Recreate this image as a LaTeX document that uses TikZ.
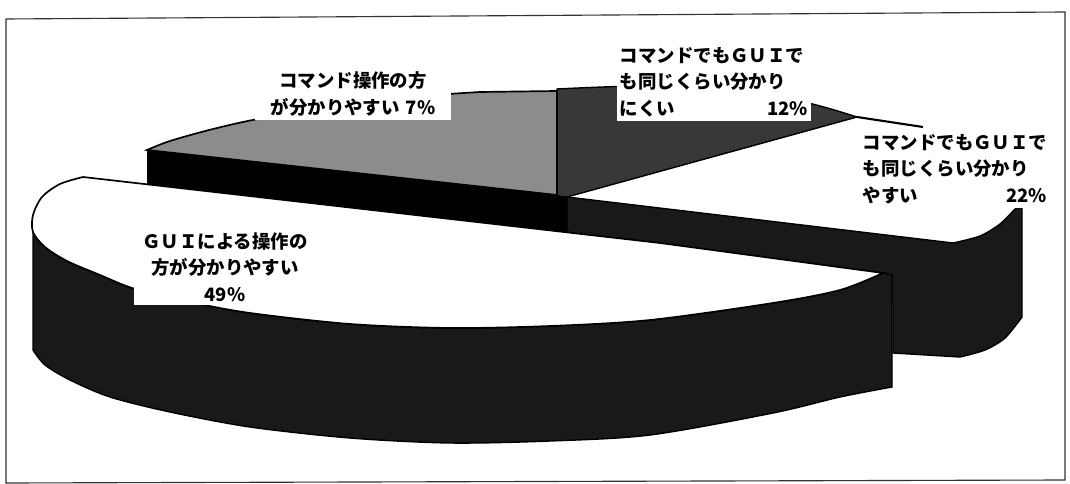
\documentclass[tikz,border=0pt]{standalone}
\usepackage{fontspec}
\newfontfamily\jpfont{Noto Sans CJK JP}
\usepackage{tikz}

\begin{document}
\begin{tikzpicture}[x=0.025cm, y=-0.025cm,
    side/.style={fill=black!90, draw=black, line width=1pt},
    topface/.style={fill=white, draw=black, line width=1.2pt},
    lbl/.style={fill=white, inner xsep=0.08cm, inner ysep=0.1cm,
      font=\jpfont\bfseries\fontsize{13.1pt}{18.8pt}\selectfont}]

    \useasboundingbox (0,0) rectangle (1070,484);
    \draw[line width=0.8pt, black!80] (6,19) -- (1065,12) -- (1065,480) -- (6,483) -- cycle;

    \filldraw[fill=black!78, draw=black, line width=1pt] (557,89)
      -- plot[smooth] coordinates {(557,89) (650,86) (740,92) (808,103) (857,117)}
      -- (567,197) -- (557,197) -- cycle;
    \draw[line width=1.5pt] (857,117) -- (923,127);

    \fill[black] (147,150) -- (557,195) -- (567,197) -- (640,245) -- (147,192) -- cycle;
    \filldraw[fill=black!45, draw=black, line width=1.2pt] (147,150)
      -- plot[smooth] coordinates {(147,150) (170,141) (213,129) (263,118) (350,104) (448,94)}
      -- (480,92) -- (557,91) -- (557,195) -- cycle;

    \filldraw[side] (567,197) -- (953,243)
      -- plot[smooth] coordinates {(953,243) (980,236) (1000,224) (1015,209)}
      -- (1022,207) -- (1022,317)
      -- plot[smooth] coordinates {(1022,317) (1005,338) (985,350) (960,357)}
      -- (893,353) -- (893,300) -- (567,240) -- cycle;

    \filldraw[side] plot[smooth] coordinates {(33,232) (45,247) (67,261) (100,275)
      (135,289) (190,302) (250,313) (350,324) (450,328) (550,326) (650,320)
      (773,303) (840,290) (883,273)}
      -- (892,275) -- (892,387)
      -- plot[smooth] coordinates {(892,387) (840,397) (773,413) (650,435)
      (550,441) (450,443) (350,438) (250,427) (170,412) (110,397) (70,380)
      (45,365) (33,350)} -- cycle;
    \filldraw[topface] (83,177) -- (660,243) -- (883,273)
      -- plot[smooth] coordinates {(883,273) (840,290) (773,303) (650,320)
      (550,326) (450,328) (350,324) (250,313) (190,302) (135,289) (100,275)
      (67,261) (45,247) (33,232) (33,215) (42,197) (60,184) (83,177)};

    \node[lbl, text width=4.7cm, align=left] (hard) at (714,82)
      {コマンドでもＧＵＩで\\も同じくらい分かり\\にくい\hfill 12\%};
    \node[lbl, text width=4.75cm, align=center] (cmd) at (353,94)
      {コマンド操作の方\\が分かりやすい 7\%};
    \node[lbl, text width=4.6cm, align=left] (easy) at (955,169)
      {コマンドでもＧＵＩで\\も同じくらい分かり\\やすい\hfill 22\%};
    \node[lbl, text width=4.4cm, align=center] (gui) at (225,267)
      {ＧＵＩによる操作の\\方が分かりやすい\\49\%};

  \end{tikzpicture}
\end{document}
